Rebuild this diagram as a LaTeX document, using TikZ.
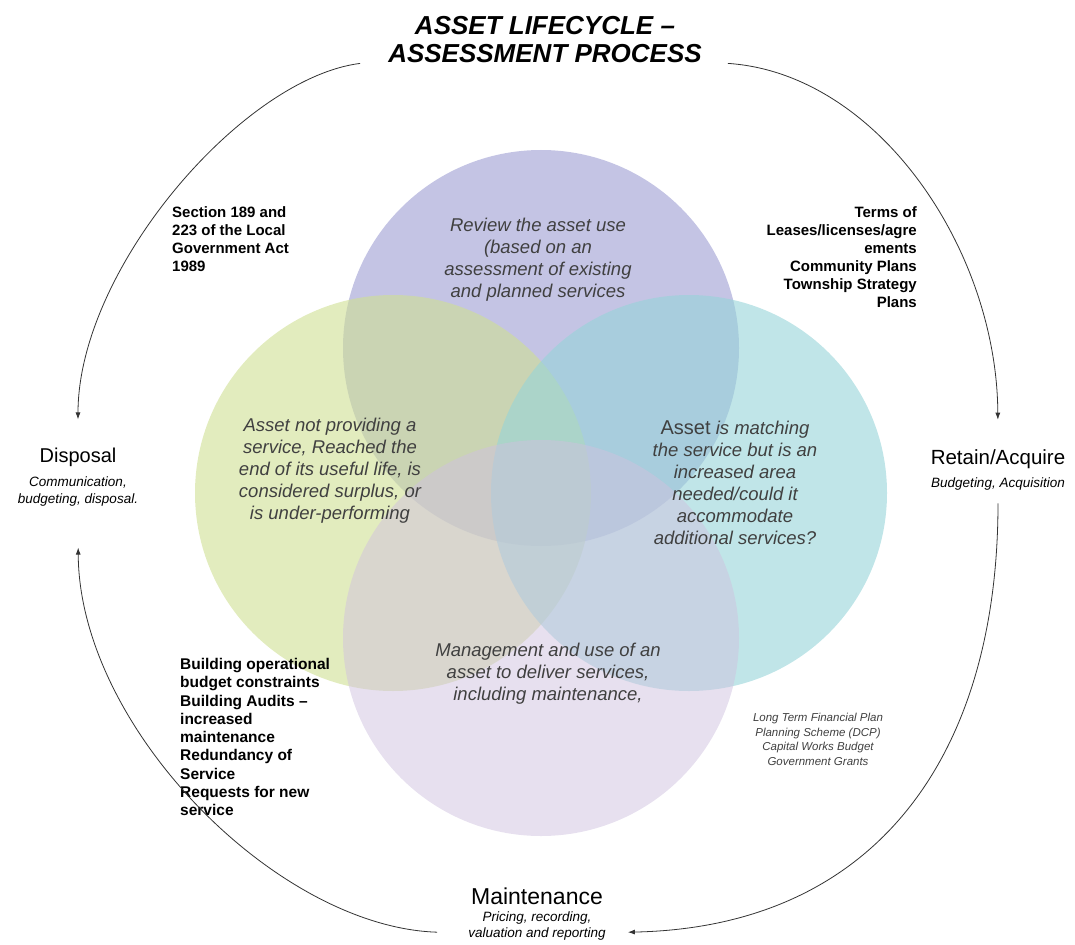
\documentclass[tikz,border=0pt]{standalone}
\usepackage{fontspec}
\setmainfont{Liberation Sans}
\usetikzlibrary{calc,arrows.meta}

\definecolor{reviewcol}{RGB}{157,157,210}
\definecolor{disposecol}{RGB}{207,223,147}
\definecolor{retaincol}{RGB}{150,212,216}
\definecolor{maintcol}{RGB}{207,193,223}
\definecolor{textgrey}{RGB}{64,64,64}

\tikzset{
  cyc/.style={draw=black!80, line width=0.8pt, -{Latex[length=7pt,width=5pt]}},
  venntext/.style={align=center, inner sep=0pt, text=textgrey,
    font=\fontsize{18.5}{22}\selectfont\itshape},
  stage/.style={align=center, inner sep=0pt,
    font=\fontsize{13.5}{17}\selectfont\itshape},
  drivers/.style={inner sep=0pt, font=\fontsize{15}{18}\selectfont\bfseries}
}

\begin{document}
\begin{tikzpicture}[x=1pt,y=-1pt]
\useasboundingbox (0,0) rectangle (1075,944);

% the four circles
\fill[reviewcol, opacity=0.6] (541,348) circle (198pt);
\fill[disposecol, opacity=0.6] (393,493) circle (198pt);
\fill[retaincol, opacity=0.6] (689,493) circle (198pt);
\fill[maintcol, opacity=0.5] (541,638) circle (198pt);

\node[venntext] (review) at (538,260) {Review the asset use\\(based on an\\assessment of existing\\and planned services};
\node[venntext] (notprov) at (330,471) {Asset not providing a\\service, Reached the\\end of its useful life, is\\considered surplus, or\\is under-performing};
\node[venntext] (matching) at (735,483) {{\upshape\fontsize{20}{22}\selectfont Asset} is matching\\the service but is an\\increased area\\needed/could it\\accommodate\\additional services?};
\node[venntext] (manage) at (548,674) {Management and use of an\\asset to deliver services,\\including maintenance,};

% title and the stages
\node[align=center, inner sep=0pt, font=\fontsize{26}{28}\selectfont\bfseries\itshape] (title) at (545,40) {ASSET LIFECYCLE –\\ASSESSMENT PROCESS};
\node[stage] (disposal) at (78,477) {{\upshape\fontsize{20}{24}\selectfont Disposal}\\[7.5pt]Communication,\\budgeting, disposal.};
\node[stage] (retain) at (998,470) {{\upshape\fontsize{20.5}{24}\selectfont Retain/Acquire}\\[5.5pt]Budgeting, Acquisition};
\node[stage, font=\fontsize{13.5}{16}\selectfont\itshape] (maintenance) at (537,914) {{\upshape\fontsize{23}{26}\selectfont Maintenance}\\[0.5pt]Pricing, recording,\\valuation and reporting};

% drivers
\node[drivers, align=left, anchor=north west] (act) at (172,206) {Section 189 and\\223 of the Local\\Government Act\\1989};
\node[drivers, align=right, anchor=north east] (plans) at (917,206) {Terms of\\Leases/licenses/agre\\ements\\Community Plans\\Township Strategy\\Plans};
\node[drivers, align=left, anchor=north west, font=\fontsize{15.5}{18.3}\selectfont\bfseries] (audits) at (180,658) {Building operational\\budget constraints\\Building Audits –\\increased\\maintenance\\Redundancy of\\Service\\Requests for new\\service};
\node[align=center, inner sep=0pt, text=textgrey, font=\fontsize{11.5}{14.5}\selectfont\itshape, anchor=north] (funding) at (818,713) {Long Term Financial Plan\\Planning Scheme (DCP)\\Capital Works Budget\\Government Grants};

% lifecycle arrows
\draw[cyc, shorten >=28pt] ($(title.south west)+(-28,0)$) .. controls +(-118,15) and +(0,-178) .. (disposal.north);
\draw[cyc, shorten >=30pt] ($(title.south east)+(26,0)$) .. controls +(150,10) and +(-1,-200) .. (retain.north);
\draw[cyc, shorten <=13pt] (retain.south) .. controls +(0,263) and +(250,-5) .. ($(maintenance.south east)+(22,-8)$);
\draw[cyc, shorten >=41pt] ($(maintenance.south west)+(-31,-8)$) .. controls +(-160,-5) and +(1,221) .. (disposal.south);
\end{tikzpicture}
\end{document}
